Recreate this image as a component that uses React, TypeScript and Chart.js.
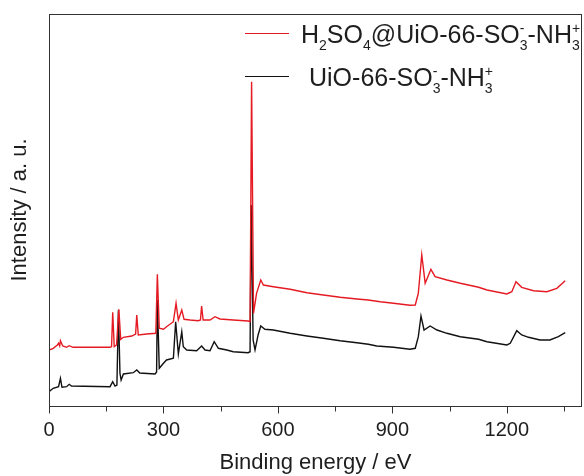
import React, { useEffect, useRef } from 'react';
import { Chart, registerables } from 'chart.js';

Chart.register(...registerables);

// ---- axis settings ----
const X_TICKS = [0, 300, 600, 900, 1200];
const X_MINOR = [150, 450, 750, 1050, 1350];
const X_MIN = 0;
const X_MAX = 1397;
const Y_MIN = 0;
const Y_MAX = 392;

// ---- series labels ----
const LABEL_RED = 'H₂SO₄@UiO-66-SO₃⁻-NH₃⁺';
const LABEL_BLACK = 'UiO-66-SO₃⁻-NH₃⁺';

// ---- UiO-66-SO3- -NH3+ (black) ----
const BLACK_EV = [0, 11, 25, 30, 34, 46, 53, 59, 160, 167, 173, 178, 182, 186, 189, 195, 221, 230, 238, 278, 282, 284, 289, 300, 308, 326, 332, 339, 348, 352, 361, 387, 400, 409, 422, 433, 444, 466, 483, 522, 527, 530, 535, 540, 548, 555, 566, 588, 632, 676, 719, 763, 807, 837, 859, 903, 946, 960, 968, 975, 983, 999, 1017, 1043, 1078, 1126, 1148, 1200, 1209, 1226, 1239, 1257, 1287, 1313, 1335, 1353];
const BLACK_I = [14.3, 17.7, 19.3, 27.7, 18.7, 19.3, 21.7, 20, 19.3, 24.3, 20, 21, 96, 32.7, 26, 32, 33.3, 36, 33, 32, 34, 106, 37.7, 42.7, 46, 47.7, 84.3, 52, 74.3, 59.3, 56, 55.3, 60, 56, 55.3, 64.3, 57.7, 56, 54.3, 53.3, 54.3, 201, 66, 56, 71, 80, 76.7, 76, 72.7, 70, 67.7, 65.3, 63.3, 61.7, 60, 58.7, 56.7, 57.7, 69.3, 90, 76, 80, 76, 72.7, 69.3, 66.7, 64.3, 61, 62.7, 75.3, 71, 68.7, 66, 66, 69.3, 73.3];

// ---- H2SO4@UiO-66-SO3- -NH3+ (red) ----
const RED_EV = [0, 11, 22, 25, 28, 30, 36, 46, 53, 63, 160, 164, 167, 171, 177, 183, 188, 195, 217, 227, 230, 234, 256, 280, 284, 289, 300, 308, 326, 333, 339, 348, 354, 370, 391, 397, 400, 404, 422, 435, 448, 483, 522, 527, 531, 536, 544, 555, 562, 588, 632, 676, 719, 763, 807, 837, 868, 903, 946, 960, 968, 977, 986, 1001, 1012, 1043, 1078, 1126, 1148, 1200, 1213, 1224, 1239, 1270, 1305, 1331, 1353];
const RED_I = [56, 57.7, 61, 62.7, 60, 65.3, 60, 58.7, 60.3, 58.7, 58.7, 59.5, 93.7, 59.3, 61, 96.7, 66.7, 68.7, 70, 72, 91, 71, 72, 72.7, 131.7, 77.7, 76.7, 79.3, 84.3, 102.7, 86, 96, 86.7, 86, 85.3, 86, 100, 86, 86, 89.3, 87, 86, 85, 84.3, 324.3, 92.7, 112.7, 126, 121, 119.3, 116.7, 113.3, 111, 108.7, 107, 106, 104.3, 102.7, 100.7, 101, 112.7, 151, 122.7, 136.7, 129.3, 126, 122.7, 118.7, 116, 112, 114.3, 124.3, 118.7, 115.3, 114.3, 117.7, 125.3];

const RED = '#e51b23';
const BLACK = '#111111';
const AXIS = '#333333';
const TEXT = '#1e1e1e';
const FONT = '"Liberation Sans", Arial, Helvetica, sans-serif';

type Part = { t: string; sub?: string; sup?: string };
const RED_PARTS: Part[] = [
  { t: 'H', sub: '2' },
  { t: 'SO', sub: '4' },
  { t: '@UiO-66-SO', sub: '3', sup: '-' },
  { t: '-NH', sub: '3', sup: '+' },
];
const BLACK_PARTS: Part[] = [
  { t: 'UiO-66-SO', sub: '3', sup: '-' },
  { t: '-NH', sub: '3', sup: '+' },
];

function drawRich(ctx: CanvasRenderingContext2D, x: number, baseline: number, parts: Part[], size: number, color: string) {
  let cx = x;
  const small = Math.round(size * 0.58);
  ctx.fillStyle = color;
  ctx.textBaseline = 'alphabetic';
  ctx.textAlign = 'left';
  for (const p of parts) {
    ctx.font = `${size}px ${FONT}`;
    ctx.fillText(p.t, cx, baseline);
    cx += ctx.measureText(p.t).width;
    ctx.font = `${small}px ${FONT}`;
    let w = 0;
    if (p.sub) {
      ctx.fillText(p.sub, cx, baseline + size * 0.26);
      w = Math.max(w, ctx.measureText(p.sub).width);
    }
    if (p.sup) {
      ctx.fillText(p.sup, cx, baseline - size * 0.42);
      w = Math.max(w, ctx.measureText(p.sup).width);
    }
    cx += w;
  }
}

const decorPlugin = {
  id: 'decor',
  afterDraw(chart: any) {
    const { ctx, chartArea: a, scales } = chart;
    const xs = scales.x;
    ctx.save();
    // frame
    ctx.strokeStyle = AXIS;
    ctx.lineWidth = 1;
    ctx.strokeRect(a.left + 0.5, a.top + 0.5, a.right - a.left - 1, a.bottom - a.top);
    // x ticks (outward)
    const all = [...X_TICKS.map((v) => [v, 7]), ...X_MINOR.map((v) => [v, 5])];
    ctx.beginPath();
    for (const [v, len] of all) {
      const px = Math.round(xs.getPixelForValue(v)) + 0.5;
      ctx.moveTo(px, a.bottom + 0.5);
      ctx.lineTo(px, a.bottom + 0.5 + len);
    }
    ctx.stroke();
    // legend
    const items = [
      { color: RED, y: 33, base: 43, x: 301, parts: RED_PARTS },
      { color: BLACK, y: 76, base: 86, x: 309, parts: BLACK_PARTS },
    ];
    for (const it of items) {
      ctx.strokeStyle = it.color;
      ctx.lineWidth = 1.2;
      ctx.beginPath();
      ctx.moveTo(245, it.y + 0.5);
      ctx.lineTo(289, it.y + 0.5);
      ctx.stroke();
      drawRich(ctx, it.x, it.base, it.parts, 25, TEXT);
    }
    ctx.restore();
  },
};

export default function App() {
  const ref = useRef<HTMLCanvasElement | null>(null);
  useEffect(() => {
    document.body.style.margin = '0';
    const canvas = ref.current;
    if (!canvas) return;
    const red = RED_EV.map((x, i) => ({ x, y: RED_I[i] }));
    const black = BLACK_EV.map((x, i) => ({ x, y: BLACK_I[i] }));
    const chart = new Chart(canvas, {
      type: 'line',
      data: {
        datasets: [
          { label: LABEL_RED, data: red, borderColor: RED, borderWidth: 1.4, pointRadius: 0, tension: 0, fill: false },
          { label: LABEL_BLACK, data: black, borderColor: BLACK, borderWidth: 1.4, pointRadius: 0, tension: 0, fill: false },
        ],
      },
      options: {
        responsive: false,
        animation: false,
        devicePixelRatio: 1,
        layout: { padding: { top: 14, right: 2, left: 0, bottom: 0 } },
        plugins: { legend: { display: false }, tooltip: { enabled: false } },
        scales: {
          x: {
            type: 'linear',
            min: X_MIN,
            max: X_MAX,
            grid: { display: false, drawTicks: false },
            border: { display: false },
            afterBuildTicks: (s: any) => {
              s.ticks = X_TICKS.map((v) => ({ value: v }));
            },
            afterFit: (s: any) => {
              s.height = 70;
            },
            ticks: {
              autoSkip: false,
              maxRotation: 0,
              padding: 12,
              color: TEXT,
              font: { family: FONT, size: 20 },
              callback: (v: any) => String(v),
            },
            title: {
              display: true,
              text: 'Binding energy / eV',
              color: TEXT,
              font: { family: FONT, size: 22 },
              padding: { top: 0, bottom: 0 },
            },
          },
          y: {
            type: 'linear',
            min: Y_MIN,
            max: Y_MAX,
            grid: { display: false, drawTicks: false },
            border: { display: false },
            ticks: { display: false },
            afterFit: (s: any) => {
              s.width = 49;
            },
            title: {
              display: true,
              text: 'Intensity / a. u.',
              color: TEXT,
              font: { family: FONT, size: 22 },
              padding: { top: 7, bottom: 0 },
            },
          },
        },
      },
      plugins: [decorPlugin],
    });
    return () => chart.destroy();
  }, []);
  return (
    <div style={{ width: 584, height: 476 }}>
      <canvas ref={ref} width={584} height={476} style={{ display: 'block' }} />
    </div>
  );
}
